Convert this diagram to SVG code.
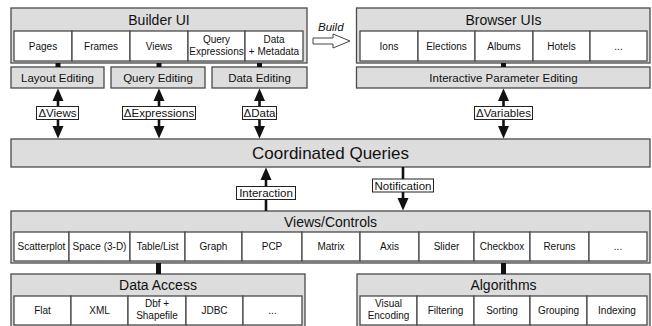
<svg xmlns="http://www.w3.org/2000/svg" width="652" height="326" viewBox="0 0 652 326">
<style>
text{font-family:"Liberation Sans",Arial,Helvetica,sans-serif;fill:#111;text-anchor:middle}
.box{fill:#dddddd;stroke:#4a4a4a;stroke-width:1.3}
.cell{fill:#ffffff;stroke:#4a4a4a;stroke-width:1.3}
.title{font-size:14px}
.big{font-size:17px}
.lbl{font-size:11.5px}
.c{font-size:10px}
.tag{fill:#ffffff;stroke:#222;stroke-width:1}
.tagt{font-size:11.5px}
.sh{stroke:#111;stroke-width:2.6;fill:none}
.sq{fill:#111}
</style>
<defs>
<marker id="ah" markerUnits="userSpaceOnUse" markerWidth="14" markerHeight="12" viewBox="0 -6 14 12" refX="0.5" refY="0" orient="auto">
<path d="M0,-5.5 L12.5,0 L0,5.5 z" fill="#111"/>
</marker>
</defs>

<g id="builder-ui">
<rect class="box" x="11" y="8" width="296" height="55"/>
<text class="title" x="159" y="24.5">Builder UI</text>
<rect class="cell" x="14" y="31" width="58" height="30"/>
<rect class="cell" x="72" y="31" width="58" height="30"/>
<rect class="cell" x="130" y="31" width="58" height="30"/>
<rect class="cell" x="188" y="31" width="57" height="30"/>
<rect class="cell" x="245" y="31" width="58" height="30"/>
<text class="c" x="43" y="49.5">Pages</text>
<text class="c" x="101" y="49.5">Frames</text>
<text class="c" x="159" y="49.5">Views</text>
<text class="c" x="216.5" y="42.5">Query</text>
<text class="c" x="216.5" y="55">Expressions</text>
<text class="c" x="274" y="42.5">Data</text>
<text class="c" x="274" y="55">+ Metadata</text>
</g>

<g id="build-arrow">
<polygon points="313,38 333,38 333,34 350,41 333,48 333,44 313,44" fill="#ffffff" stroke="#444" stroke-width="1"/>
<text x="318" y="31" style="font-size:11.5px;font-style:italic;text-anchor:start">Build</text>
</g>

<g id="browser-uis">
<rect class="box" x="356.5" y="8" width="293.5" height="55"/>
<text class="title" x="503.5" y="24.5">Browser UIs</text>
<rect class="cell" x="360" y="31" width="58" height="30"/>
<rect class="cell" x="418" y="31" width="57" height="30"/>
<rect class="cell" x="475" y="31" width="58" height="30"/>
<rect class="cell" x="533" y="31" width="57" height="30"/>
<rect class="cell" x="590" y="31" width="57" height="30"/>
<text class="c" x="389" y="49.5">Ions</text>
<text class="c" x="446.5" y="49.5">Elections</text>
<text class="c" x="504" y="49.5">Albums</text>
<text class="c" x="561.5" y="49.5">Hotels</text>
<text class="c" x="618.5" y="49.5">...</text>
</g>

<g id="layout-editing">
<rect class="box" x="11" y="67" width="93" height="21"/>
<text class="lbl" x="57.5" y="81.8">Layout Editing</text>
</g>
<g id="query-editing">
<rect class="box" x="111" y="67" width="94" height="21"/>
<text class="lbl" x="158" y="81.8">Query Editing</text>
</g>
<g id="data-editing">
<rect class="box" x="212" y="67" width="95" height="21"/>
<text class="lbl" x="259.5" y="81.8">Data Editing</text>
</g>
<g id="interactive-parameter-editing">
<rect class="box" x="356.5" y="67" width="293.5" height="21"/>
<text class="lbl" x="503.5" y="81.8">Interactive Parameter Editing</text>
</g>

<g id="coordinated-queries">
<rect class="box" x="11" y="139" width="639" height="28"/>
<text class="big" x="330.5" y="159">Coordinated Queries</text>
</g>

<g id="views-controls">
<rect class="box" x="11" y="211" width="639" height="52"/>
<text class="title" x="330.5" y="226.5">Views/Controls</text>
<rect class="cell" x="14" y="232" width="55" height="29"/>
<rect class="cell" x="69" y="232" width="61" height="29"/>
<rect class="cell" x="130" y="232" width="55" height="29"/>
<rect class="cell" x="185" y="232" width="57" height="29"/>
<rect class="cell" x="242" y="232" width="60" height="29"/>
<rect class="cell" x="302" y="232" width="58" height="29"/>
<rect class="cell" x="360" y="232" width="59" height="29"/>
<rect class="cell" x="419" y="232" width="55" height="29"/>
<rect class="cell" x="474" y="232" width="56" height="29"/>
<rect class="cell" x="530" y="232" width="59" height="29"/>
<rect class="cell" x="589" y="232" width="58" height="29"/>
<text class="c" x="41.5" y="250">Scatterplot</text>
<text class="c" x="99.5" y="250">Space (3-D)</text>
<text class="c" x="157.5" y="250">Table/List</text>
<text class="c" x="213.5" y="250">Graph</text>
<text class="c" x="272" y="250">PCP</text>
<text class="c" x="331" y="250">Matrix</text>
<text class="c" x="389.5" y="250">Axis</text>
<text class="c" x="446.5" y="250">Slider</text>
<text class="c" x="502" y="250">Checkbox</text>
<text class="c" x="559.5" y="250">Reruns</text>
<text class="c" x="618" y="250">...</text>
</g>

<g id="data-access">
<rect class="box" x="11" y="274" width="294" height="56"/>
<text class="title" x="158" y="290">Data Access</text>
<rect class="cell" x="14" y="296" width="57" height="29"/>
<rect class="cell" x="71" y="296" width="57" height="29"/>
<rect class="cell" x="128" y="296" width="58" height="29"/>
<rect class="cell" x="186" y="296" width="57" height="29"/>
<rect class="cell" x="243" y="296" width="59" height="29"/>
<text class="c" x="42.5" y="314">Flat</text>
<text class="c" x="99.5" y="314">XML</text>
<text class="c" x="157" y="306.5">Dbf +</text>
<text class="c" x="157" y="319">Shapefile</text>
<text class="c" x="214.5" y="314">JDBC</text>
<text class="c" x="272.5" y="314">...</text>
</g>

<g id="algorithms">
<rect class="box" x="357" y="274" width="293" height="56"/>
<text class="title" x="503.5" y="290">Algorithms</text>
<rect class="cell" x="360" y="296" width="57" height="29"/>
<rect class="cell" x="417" y="296" width="57" height="29"/>
<rect class="cell" x="474" y="296" width="56" height="29"/>
<rect class="cell" x="530" y="296" width="57" height="29"/>
<rect class="cell" x="587" y="296" width="60" height="29"/>
<text class="c" x="388.5" y="306.5">Visual</text>
<text class="c" x="388.5" y="319">Encoding</text>
<text class="c" x="445.5" y="314">Filtering</text>
<text class="c" x="502" y="314">Sorting</text>
<text class="c" x="558.5" y="314">Grouping</text>
<text class="c" x="617" y="314">Indexing</text>
</g>

<g id="connectors">
<rect class="sq" x="55.5" y="63" width="5" height="4"/>
<rect class="sq" x="156.5" y="63" width="5" height="4"/>
<rect class="sq" x="257" y="63" width="5" height="4"/>
<rect class="sq" x="501" y="63" width="5" height="4"/>
<rect class="sq" x="156" y="263" width="5" height="11"/>
<rect class="sq" x="501" y="263" width="5" height="11"/>

<line class="sh" x1="58" y1="107" x2="58" y2="100.5" marker-end="url(#ah)"/>
<line class="sh" x1="58" y1="119" x2="58" y2="126.5" marker-end="url(#ah)"/>
<line class="sh" x1="159" y1="107" x2="159" y2="100.5" marker-end="url(#ah)"/>
<line class="sh" x1="159" y1="119" x2="159" y2="126.5" marker-end="url(#ah)"/>
<line class="sh" x1="259.5" y1="107" x2="259.5" y2="100.5" marker-end="url(#ah)"/>
<line class="sh" x1="259.5" y1="119" x2="259.5" y2="126.5" marker-end="url(#ah)"/>
<line class="sh" x1="503.5" y1="107" x2="503.5" y2="100.5" marker-end="url(#ah)"/>
<line class="sh" x1="503.5" y1="119" x2="503.5" y2="126.5" marker-end="url(#ah)"/>
<line class="sh" x1="266" y1="211" x2="266" y2="179.5" marker-end="url(#ah)"/>
<line class="sh" x1="403" y1="167" x2="403" y2="198.5" marker-end="url(#ah)"/>

<rect class="tag" x="36.5" y="106.5" width="42" height="13"/>
<text class="tagt" x="57.5" y="117">ΔViews</text>
<rect class="tag" x="122.5" y="106.5" width="73" height="13"/>
<text class="tagt" x="159" y="117">ΔExpressions</text>
<rect class="tag" x="242.5" y="106.5" width="34" height="13"/>
<text class="tagt" x="259.5" y="117">ΔData</text>
<rect class="tag" x="474.5" y="106.5" width="58" height="13"/>
<text class="tagt" x="503.5" y="117">ΔVariables</text>
<rect class="tag" x="236.5" y="186.5" width="59" height="13"/>
<text class="tagt" x="266" y="197">Interaction</text>
<rect class="tag" x="372.5" y="179" width="61" height="13"/>
<text class="tagt" x="403" y="189.5">Notification</text>
</g>
</svg>
